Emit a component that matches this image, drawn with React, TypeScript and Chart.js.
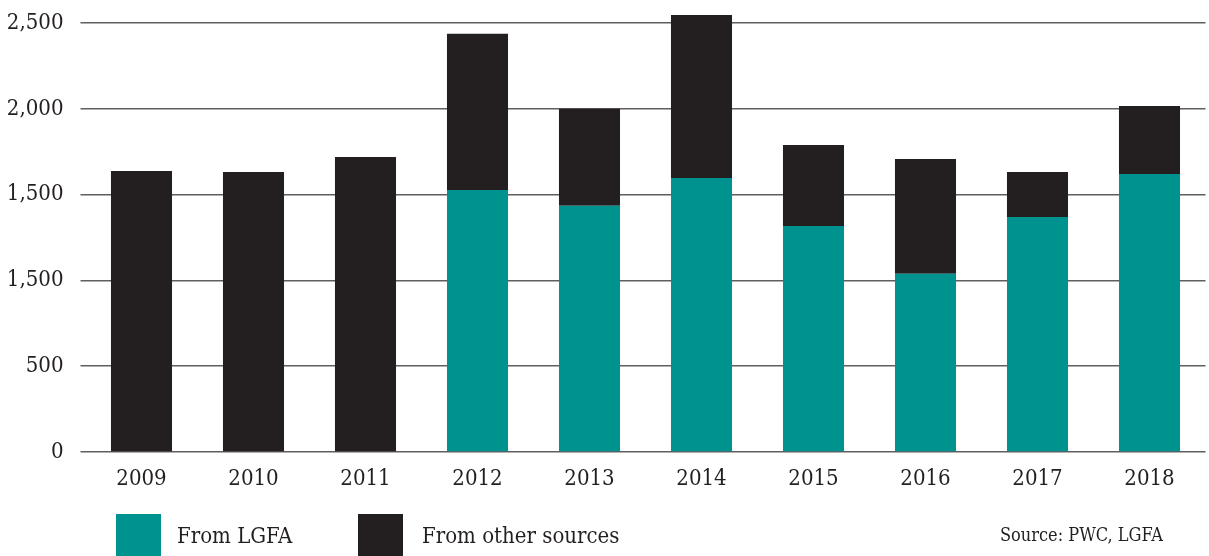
import React, { useEffect, useRef } from 'react';
import { Chart, registerables } from 'chart.js';

Chart.register(...registerables);

const years = ['2009', '2010', '2011', '2012', '2013', '2014', '2015', '2016', '2017', '2018'];
const fromLGFA = [0, 0, 0, 1528, 1435, 1598, 1318, 1039, 1370, 1621];
const fromOther = [1638, 1632, 1720, 910, 566, 950, 472, 669, 262, 396];
const tickValues = [0, 500, 1000, 1500, 2000, 2500];
const tickLabels = ['0', '500', '1,500', '1,500', '2,000', '2,500'];

const TEAL = '#00928e';
const DARK = '#231f20';
const FONT = '"DejaVu Serif Condensed", "DejaVu Serif", serif';

export default function App() {
  const ref = useRef<HTMLCanvasElement | null>(null);

  useEffect(() => {
    if (!ref.current) return;
    const chart = new Chart(ref.current, {
      type: 'bar',
      data: {
        labels: years,
        datasets: [
          { label: 'From LGFA', data: fromLGFA, backgroundColor: TEAL, borderWidth: 0 },
          { label: 'From other sources', data: fromOther, backgroundColor: DARK, borderWidth: 0 },
        ],
      },
      options: {
        responsive: false,
        animation: false,
        layout: { padding: { top: 6, right: 3.5, left: 0, bottom: 0 } },
        plugins: { legend: { display: false }, tooltip: { enabled: false } },
        datasets: { bar: { barPercentage: 0.545, categoryPercentage: 1 } },
        scales: {
          x: {
            stacked: true,
            grid: { display: false, drawTicks: false },
            border: { display: false },
            ticks: { color: DARK, padding: 14, font: { family: FONT, size: 22 } },
            afterFit: (s: any) => {
              s.height = 104;
              s.paddingLeft = 0;
              s.paddingRight = 0;
            },
          },
          y: {
            stacked: true,
            min: 0,
            max: 2600,
            afterBuildTicks: (s: any) => { s.ticks = tickValues.map((v) => ({ value: v })); },
            grid: { color: '#5f5f5f', lineWidth: 1.5, tickLength: 5, drawTicks: true },
            border: { display: false },
            ticks: {
              color: DARK,
              padding: 17,
              font: { family: FONT, size: 22 },
              callback: (v: any) => {
                const i = tickValues.indexOf(Number(v));
                return i >= 0 ? tickLabels[i] : '';
              },
            },
            afterFit: (s: any) => {
              s.width = 85.5;
              s.paddingTop = 0;
              s.paddingBottom = 0;
            },
          },
        },
      },
    });
    return () => chart.destroy();
  }, []);

  const textStyle: React.CSSProperties = {
    position: 'absolute',
    fontFamily: FONT,
    color: DARK,
    whiteSpace: 'nowrap',
    lineHeight: '30px',
  };

  return (
    <div style={{ position: 'absolute', left: 0, top: 0, width: 1209, height: 556, overflow: 'hidden', background: '#fff' }}>
      <canvas ref={ref} width={1209} height={556} style={{ position: 'absolute', left: 0, top: 0, width: 1209, height: 556 }} />
      <div style={{ position: 'absolute', left: 116, top: 514, width: 45, height: 50, background: TEAL }} />
      <div style={{ ...textStyle, left: 177, top: 521, fontSize: 22 }}>From LGFA</div>
      <div style={{ position: 'absolute', left: 358, top: 514, width: 45, height: 50, background: DARK }} />
      <div style={{ ...textStyle, left: 422, top: 521, fontSize: 22 }}>From other sources</div>
      <div style={{ ...textStyle, left: 1000, top: 520, fontSize: 18 }}>Source: PWC, LGFA</div>
    </div>
  );
}
